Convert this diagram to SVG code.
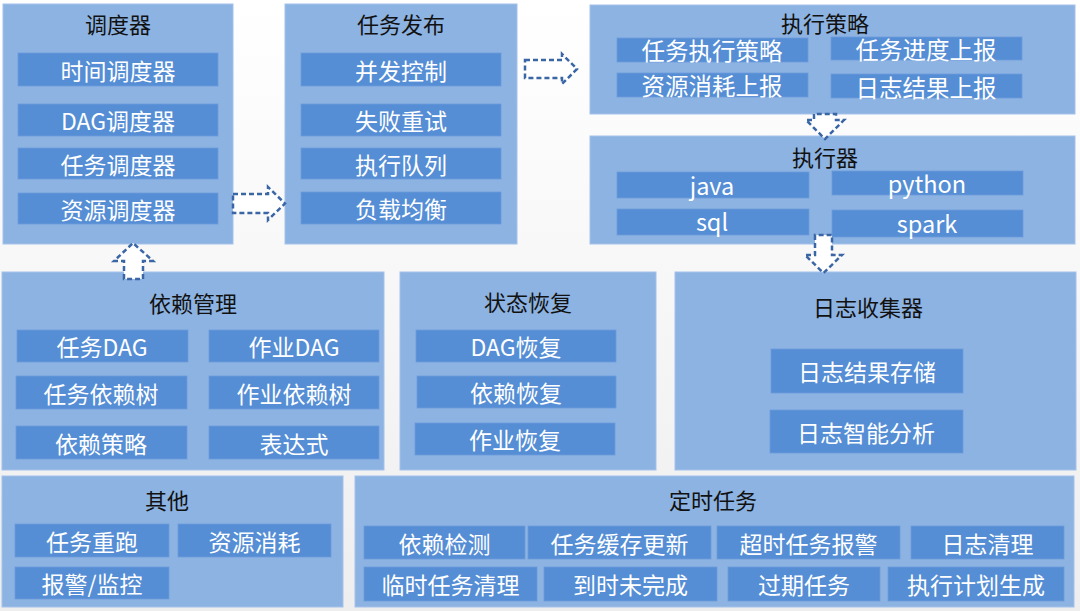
<svg xmlns="http://www.w3.org/2000/svg" width="1080" height="611" viewBox="0 0 1080 611">
<defs>
<linearGradient id="bg" x1="0" y1="0" x2="0" y2="1">
<stop offset="0" stop-color="#ffffff"/>
<stop offset="1" stop-color="#eeeeee"/>
</linearGradient>
<style>
.panel{fill:#8db3e2;stroke:#a3c1e9;stroke-width:1}
.item{fill:#558ed5;stroke:#6b9cdb;stroke-width:0.8}
.title{font-family:"Noto Sans CJK SC","Microsoft YaHei",sans-serif;font-size:22px;fill:#111111;text-anchor:middle;dominant-baseline:central}
.t{font-family:"Noto Sans CJK SC","Microsoft YaHei",sans-serif;font-size:23px;fill:#ffffff;text-anchor:middle;dominant-baseline:central}
.tl{font-family:"Noto Sans CJK SC","Microsoft YaHei",sans-serif;font-size:23.5px;fill:#ffffff;text-anchor:middle;dominant-baseline:central}
.arrow{fill:#ffffff;stroke:#3a66a6;stroke-width:2.5;stroke-dasharray:5 3;stroke-linejoin:miter}
</style>
</defs>
<rect x="0" y="0" width="1080" height="611" fill="url(#bg)"/>

<g id="scheduler">
<rect class="panel" x="3" y="4" width="230" height="240"/>
<text class="title" x="118" y="23">调度器</text>
<rect class="item" x="18" y="53" width="200" height="33"/><text class="t" x="118" y="70">时间调度器</text>
<rect class="item" x="18" y="104" width="200" height="32"/><text class="t" x="118" y="120">DAG调度器</text>
<rect class="item" x="18" y="148" width="200" height="31"/><text class="t" x="118" y="163.5">任务调度器</text>
<rect class="item" x="18" y="193" width="200" height="31"/><text class="t" x="118" y="208.5">资源调度器</text>
</g>

<g id="dispatch">
<rect class="panel" x="285" y="4" width="232" height="240"/>
<text class="title" x="401" y="23">任务发布</text>
<rect class="item" x="301" y="53" width="200" height="33"/><text class="t" x="401" y="70">并发控制</text>
<rect class="item" x="301" y="104" width="200" height="32"/><text class="t" x="401" y="120">失败重试</text>
<rect class="item" x="301" y="148" width="200" height="31"/><text class="t" x="401" y="163.5">执行队列</text>
<rect class="item" x="301" y="192" width="200" height="32"/><text class="t" x="401" y="208">负载均衡</text>
</g>

<g id="strategy">
<rect class="panel" x="590" y="5" width="485" height="109"/>
<text class="title" x="825" y="22">执行策略</text>
<rect class="item" x="617" y="38" width="191" height="24"/><text class="tl" x="712" y="50">任务执行策略</text>
<rect class="item" x="831" y="37" width="191" height="23"/><text class="tl" x="926" y="48.5">任务进度上报</text>
<rect class="item" x="617" y="73" width="191" height="24"/><text class="tl" x="712" y="85">资源消耗上报</text>
<rect class="item" x="831" y="74" width="191" height="24"/><text class="tl" x="926" y="87">日志结果上报</text>
</g>

<g id="executor">
<rect class="panel" x="590" y="136" width="485" height="108"/>
<text class="title" x="825" y="156">执行器</text>
<rect class="item" x="617" y="172" width="192" height="26"/><text class="tl" x="712" y="185">java</text>
<rect class="item" x="832" y="171" width="191" height="24"/><text class="tl" x="927" y="183">python</text>
<rect class="item" x="617" y="209" width="192" height="26"/><text class="tl" x="712" y="221">sql</text>
<rect class="item" x="832" y="210" width="191" height="27"/><text class="tl" x="927" y="223">spark</text>
</g>

<g id="dependency">
<rect class="panel" x="2" y="272" width="382" height="198"/>
<text class="title" x="193" y="302">依赖管理</text>
<rect class="item" x="17" y="330" width="171" height="32"/><text class="t" x="102" y="346">任务DAG</text>
<rect class="item" x="209" y="330" width="170" height="32"/><text class="t" x="294" y="346">作业DAG</text>
<rect class="item" x="16" y="376" width="171" height="33"/><text class="t" x="101" y="392.5">任务依赖树</text>
<rect class="item" x="209" y="376" width="170" height="33"/><text class="t" x="294" y="392.5">作业依赖树</text>
<rect class="item" x="16" y="426" width="171" height="33"/><text class="t" x="101" y="442.5">依赖策略</text>
<rect class="item" x="209" y="426" width="170" height="33"/><text class="t" x="294" y="442.5">表达式</text>
</g>

<g id="recovery">
<rect class="panel" x="400" y="272" width="256" height="198"/>
<text class="title" x="528" y="301">状态恢复</text>
<rect class="item" x="416" y="330" width="200" height="32"/><text class="t" x="516" y="346">DAG恢复</text>
<rect class="item" x="417" y="376" width="199" height="32"/><text class="t" x="516" y="392">依赖恢复</text>
<rect class="item" x="415" y="423" width="200" height="32"/><text class="t" x="515" y="439">作业恢复</text>
</g>

<g id="logcollector">
<rect class="panel" x="675" y="272" width="401" height="198"/>
<text class="title" x="868" y="306">日志收集器</text>
<rect class="item" x="771" y="349" width="192" height="44"/><text class="t" x="867" y="371">日志结果存储</text>
<rect class="item" x="770" y="410" width="193" height="43"/><text class="t" x="866" y="431.5">日志智能分析</text>
</g>

<g id="other">
<rect class="panel" x="2" y="476" width="341" height="131"/>
<text class="title" x="167" y="499">其他</text>
<rect class="item" x="15" y="524" width="154" height="33"/><text class="t" x="92" y="540.5">任务重跑</text>
<rect class="item" x="178" y="524" width="153" height="33"/><text class="t" x="254.5" y="540.5">资源消耗</text>
<rect class="item" x="15" y="567" width="154" height="32"/><text class="t" x="92" y="583">报警/监控</text>
</g>

<g id="timed">
<rect class="panel" x="355" y="476" width="719" height="131"/>
<text class="title" x="713" y="499">定时任务</text>
<rect class="item" x="364" y="526" width="161" height="33"/><text class="t" x="444.5" y="542.5">依赖检测</text>
<rect class="item" x="528" y="526" width="183" height="33"/><text class="t" x="619.5" y="542.5">任务缓存更新</text>
<rect class="item" x="717" y="526" width="183" height="33"/><text class="t" x="808.5" y="542.5">超时任务报警</text>
<rect class="item" x="911" y="526" width="153" height="33"/><text class="t" x="987.5" y="542.5">日志清理</text>
<rect class="item" x="364" y="567" width="173" height="34"/><text class="t" x="450.5" y="584">临时任务清理</text>
<rect class="item" x="544" y="567" width="173" height="34"/><text class="t" x="630.5" y="584">到时未完成</text>
<rect class="item" x="728" y="567" width="152" height="34"/><text class="t" x="804" y="584">过期任务</text>
<rect class="item" x="888" y="567" width="176" height="34"/><text class="t" x="976" y="584">执行计划生成</text>
</g>

<g id="connectors">
<path class="arrow" d="M233,194 H268 V187 L285,203.5 L268,220 V213 H233 Z"/>
<path class="arrow" d="M525,60 H562 V54 L577,69 L562,84 V78 H525 Z"/>
<path class="arrow" d="M124,279 V261 H114 L133,243 L153,261 H143 V279 Z"/>
<path class="arrow" d="M814,114 V120 H806 L825,139 L844,120 H836 V114 Z"/>
<path class="arrow" d="M815,235 V255 H805 L823.5,273 L842,255 H832 V235 Z"/>
</g>
</svg>
